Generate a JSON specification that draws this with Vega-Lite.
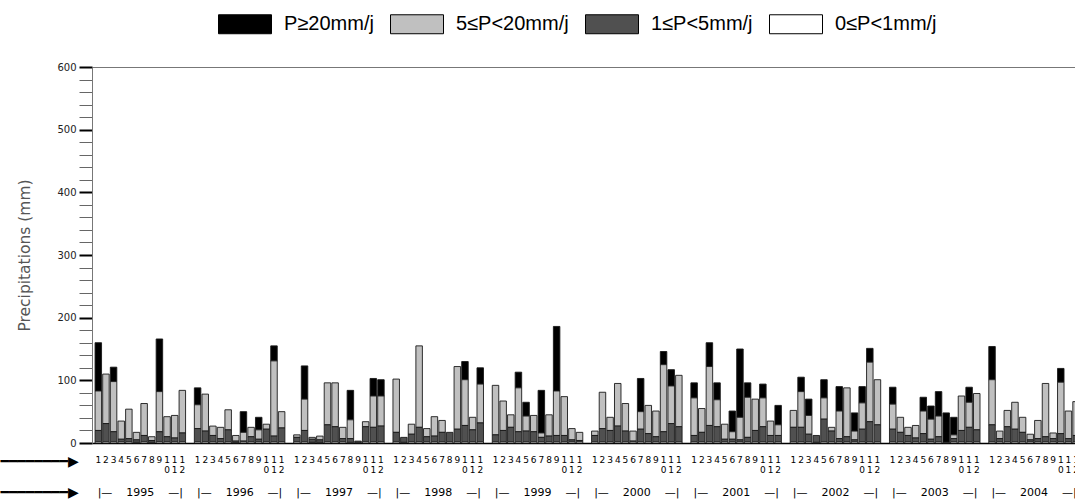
{
  "$schema": "https://vega.github.io/schema/vega-lite/v6.json",
  "autosize": "none",
  "padding": {"left": 92, "top": 67, "right": 0, "bottom": 57},
  "width": 998,
  "height": 376,
  "background": "white",
  "config": {"view": {"stroke": "#777", "strokeWidth": 1}, "font": "DejaVu Sans"},
  "data": {"values": [
    {"t":"1995-01","d":2,"c":18,"b":63,"a":77},{"t":"1995-02","d":2,"c":29,"b":79},{"t":"1995-03","d":2,"c":16,"b":80,"a":23},{"t":"1995-04","d":2,"c":4,"b":29},{"t":"1995-05","d":2,"c":5,"b":47},{"t":"1995-06","d":1,"c":4,"b":12},{"t":"1995-07","d":2,"c":10,"b":51},{"t":"1995-08","d":1,"c":3,"b":6},{"t":"1995-09","d":2,"c":16,"b":64,"a":84},{"t":"1995-10","d":2,"c":8,"b":32},{"t":"1995-11","d":2,"c":6,"b":36},{"t":"1995-12","d":2,"c":14,"b":68},
    {"t":"1996-01","d":2,"c":21,"b":38,"a":27},{"t":"1996-02","d":2,"c":17,"b":59},{"t":"1996-03","d":2,"c":10,"b":15},{"t":"1996-04","d":2,"c":5,"b":18},{"t":"1996-05","d":2,"c":19,"b":32},{"t":"1996-06","d":1,"c":2,"b":9},{"t":"1996-07","d":2,"c":1,"b":14,"a":33},{"t":"1996-08","d":2,"c":8,"b":15},{"t":"1996-09","d":2,"c":4,"b":15,"a":20},{"t":"1996-10","d":2,"c":20,"b":8},{"t":"1996-11","d":2,"c":9,"b":120,"a":24},{"t":"1996-12","d":2,"c":22,"b":26},
    {"t":"1997-01","d":2,"c":7,"b":4},{"t":"1997-02","d":2,"c":18,"b":50,"a":53},{"t":"1997-03","d":1,"c":5,"b":3},{"t":"1997-04","d":1,"c":4,"b":6},{"t":"1997-05","d":2,"c":27,"b":67},{"t":"1997-06","d":2,"c":24,"b":70},{"t":"1997-07","d":2,"c":5,"b":18},{"t":"1997-08","d":1,"c":6,"b":30,"a":47},{"t":"1997-09","d":1,"c":2},{"t":"1997-10","d":2,"c":24,"b":8},{"t":"1997-11","d":2,"c":23,"b":50,"a":28},{"t":"1997-12","d":2,"c":25,"b":48,"a":26},
    {"t":"1998-01","d":2,"c":15,"b":85},{"t":"1998-02","d":1,"c":8},{"t":"1998-03","d":2,"c":12,"b":16},{"t":"1998-04","d":2,"c":23,"b":130},{"t":"1998-05","d":2,"c":8,"b":13},{"t":"1998-06","d":2,"c":9,"b":31},{"t":"1998-07","d":2,"c":15,"b":19},{"t":"1998-08","d":2,"c":15},{"t":"1998-09","d":2,"c":20,"b":100},{"t":"1998-10","d":2,"c":26,"b":73,"a":29},{"t":"1998-11","d":2,"c":19,"b":20},{"t":"1998-12","d":2,"c":30,"b":62,"a":26},
    {"t":"1999-01","d":2,"c":11,"b":79},{"t":"1999-02","d":2,"c":18,"b":47},{"t":"1999-03","d":2,"c":23,"b":20},{"t":"1999-04","d":2,"c":16,"b":70,"a":25},{"t":"1999-05","d":2,"c":17,"b":24,"a":22},{"t":"1999-06","d":2,"c":16,"b":26},{"t":"1999-07","d":2,"c":7,"b":7,"a":68},{"t":"1999-08","d":2,"c":9,"b":34},{"t":"1999-09","d":2,"c":10,"b":71,"a":103},{"t":"1999-10","d":2,"c":10,"b":62},{"t":"1999-11","d":2,"c":3,"b":18},{"t":"1999-12","d":2,"c":2,"b":13},
    {"t":"2000-01","d":2,"c":10,"b":7},{"t":"2000-02","d":2,"c":21,"b":58},{"t":"2000-03","d":2,"c":18,"b":21},{"t":"2000-04","d":2,"c":25,"b":68},{"t":"2000-05","d":2,"c":17,"b":44},{"t":"2000-06","d":2,"c":1,"b":16},{"t":"2000-07","d":2,"c":20,"b":28,"a":53},{"t":"2000-08","d":2,"c":13,"b":45},{"t":"2000-09","d":2,"c":8,"b":41},{"t":"2000-10","d":2,"c":16,"b":107,"a":21},{"t":"2000-11","d":2,"c":29,"b":60,"a":26},{"t":"2000-12","d":2,"c":24,"b":82},
    {"t":"2001-01","d":2,"c":10,"b":60,"a":24},{"t":"2001-02","d":2,"c":15,"b":38},{"t":"2001-03","d":2,"c":26,"b":94,"a":38},{"t":"2001-04","d":2,"c":24,"b":43,"a":27},{"t":"2001-05","d":2,"c":4,"b":24},{"t":"2001-06","d":2,"c":4,"b":12,"a":33},{"t":"2001-07","d":2,"c":3,"b":36,"a":109},{"t":"2001-08","d":2,"c":7,"b":64,"a":23},{"t":"2001-09","d":2,"c":18,"b":50},{"t":"2001-10","d":2,"c":24,"b":46,"a":22},{"t":"2001-11","d":2,"c":10,"b":23},{"t":"2001-12","d":2,"c":10,"b":17,"a":31},
    {"t":"2002-01","d":2,"c":23,"b":27},{"t":"2002-02","d":2,"c":23,"b":57,"a":23},{"t":"2002-03","d":2,"c":12,"b":30,"a":26},{"t":"2002-04","d":1,"c":11},{"t":"2002-05","d":2,"c":36,"b":34,"a":29},{"t":"2002-06","d":2,"c":17,"b":6},{"t":"2002-07","d":2,"c":5,"b":44,"a":39},{"t":"2002-08","d":2,"c":8,"b":78},{"t":"2002-09","d":2,"c":3,"b":14,"a":29},{"t":"2002-10","d":2,"c":20,"b":42,"a":26},{"t":"2002-11","d":2,"c":32,"b":95,"a":22},{"t":"2002-12","d":2,"c":27,"b":72},
    {"t":"2003-01","d":2,"c":20,"b":40,"a":27},{"t":"2003-02","d":2,"c":15,"b":24},{"t":"2003-03","d":2,"c":10,"b":13},{"t":"2003-04","d":2,"c":6,"b":20},{"t":"2003-05","d":2,"c":13,"b":36,"a":22},{"t":"2003-06","d":2,"c":4,"b":32,"a":21},{"t":"2003-07","d":2,"c":8,"b":33,"a":39},{"t":"2003-08","d":1,"a":47},{"t":"2003-09","d":2,"c":5,"b":6,"a":28},{"t":"2003-10","d":2,"c":18,"b":55},{"t":"2003-11","d":2,"c":23,"b":40,"a":24},{"t":"2003-12","d":2,"c":19,"b":58},
    {"t":"2004-01","d":2,"c":27,"b":72,"a":53},{"t":"2004-02","d":2,"c":5,"b":12},{"t":"2004-03","d":2,"c":24,"b":26},{"t":"2004-04","d":2,"c":20,"b":43},{"t":"2004-05","d":2,"c":15,"b":24},{"t":"2004-06","d":2,"c":3,"b":9},{"t":"2004-07","d":2,"c":5,"b":29},{"t":"2004-08","d":2,"c":8,"b":85},{"t":"2004-09","d":2,"c":5,"b":9},{"t":"2004-10","d":2,"c":13,"b":82,"a":22},{"t":"2004-11","d":2,"c":5,"b":44},{"t":"2004-12","d":2,"c":10,"b":54}
  ]},
  "transform": [
    {"fold": ["a", "b", "c", "d"], "as": ["cat", "v"]},
    {"filter": "datum.v > 0"}
  ],
  "layer": [
    {
      "mark": {"type": "bar", "stroke": "#1a1a1a", "strokeWidth": 0.9},
      "encoding": {
        "x": {
          "field": "t", "type": "nominal",
          "scale": {
            "domain": ["1995-01","1995-02","1995-03","1995-04","1995-05","1995-06","1995-07","1995-08","1995-09","1995-10","1995-11","1995-12","1995-g",
                       "1996-01","1996-02","1996-03","1996-04","1996-05","1996-06","1996-07","1996-08","1996-09","1996-10","1996-11","1996-12","1996-g",
                       "1997-01","1997-02","1997-03","1997-04","1997-05","1997-06","1997-07","1997-08","1997-09","1997-10","1997-11","1997-12","1997-g",
                       "1998-01","1998-02","1998-03","1998-04","1998-05","1998-06","1998-07","1998-08","1998-09","1998-10","1998-11","1998-12","1998-g",
                       "1999-01","1999-02","1999-03","1999-04","1999-05","1999-06","1999-07","1999-08","1999-09","1999-10","1999-11","1999-12","1999-g",
                       "2000-01","2000-02","2000-03","2000-04","2000-05","2000-06","2000-07","2000-08","2000-09","2000-10","2000-11","2000-12","2000-g",
                       "2001-01","2001-02","2001-03","2001-04","2001-05","2001-06","2001-07","2001-08","2001-09","2001-10","2001-11","2001-12","2001-g",
                       "2002-01","2002-02","2002-03","2002-04","2002-05","2002-06","2002-07","2002-08","2002-09","2002-10","2002-11","2002-12","2002-g",
                       "2003-01","2003-02","2003-03","2003-04","2003-05","2003-06","2003-07","2003-08","2003-09","2003-10","2003-11","2003-12","2003-g",
                       "2004-01","2004-02","2004-03","2004-04","2004-05","2004-06","2004-07","2004-08","2004-09","2004-10","2004-11","2004-12","2004-g"],
            "paddingInner": 0.15,
            "paddingOuter": 0.4
          },
          "axis": {
            "orient": "bottom",
            "labelExpr": "indexof(datum.value,'g')>=0 ? '' : (substring(datum.value,5,6)=='1' ? ['1', substring(datum.value,6,7)] : substring(datum.value,6,7))",
            "labelAngle": 0,
            "labelOverlap": false,
            "labelFontSize": 9,
            "labelColor": "#000",
            "labelBaseline": "top",
            "labelPadding": 12,
            "labelLineHeight": 10,
            "ticks": false,
            "domainColor": "#000",
            "domainWidth": 1.5,
            "title": "━━━━━━━━▶",
            "titleX": -92,
            "titleY": 18,
            "titleAlign": "left",
            "titleBaseline": "middle",
            "titleFontSize": 14,
            "titleFontWeight": "normal",
            "titleColor": "#000"
          }
        },
        "y": {
          "field": "v", "type": "quantitative", "stack": "zero",
          "scale": {"domain": [0, 600], "nice": false},
          "axis": {
            "title": "Precipitations (mm)",
            "values": [0,20,40,60,80,100,120,140,160,180,200,220,240,260,280,300,320,340,360,380,400,420,440,460,480,500,520,540,560,580,600],
            "labelExpr": "datum.value % 100 === 0 ? datum.label : ''",
            "tickSize": 13,
            "tickWidth": {"condition": {"test": "datum.value % 100 === 0", "value": 2}, "value": 1},
            "tickColor": {"condition": {"test": "datum.value % 100 === 0", "value": "#000"}, "value": "#666"},
            "encode": {"ticks": {"update": {"x2": {"signal": "datum.value % 100 === 0 ? -13 : -7"}}}},
            "labelPadding": 3,
            "labelFontSize": 10,
            "labelColor": "#222",
            "domainColor": "#777",
            "grid": false,
            "titleFontSize": 15.5,
            "titleFontWeight": "normal",
            "titleColor": "#555",
            "titlePadding": 24
          }
        },
        "color": {
          "field": "cat", "type": "nominal",
          "scale": {"domain": ["a", "b", "c", "d"], "range": ["#000000", "#c0c0c0", "#505050", "#ffffff"]},
          "legend": {
            "title": null,
            "orient": "none",
            "direction": "horizontal",
            "legendX": 126,
            "legendY": -70,
            "labelExpr": "datum.label == 'a' ? 'P≥20mm/j' : datum.label == 'b' ? '5≤P<20mm/j' : datum.label == 'c' ? '1≤P<5mm/j' : '0≤P<1mm/j'",
            "symbolType": "M-1,-0.358H1V0.358H-1Z",
            "symbolSize": 2809,
            "symbolStrokeColor": "#000",
            "symbolStrokeWidth": 1,
            "labelFont": "Liberation Sans",
            "labelFontSize": 20,
            "labelColor": "#000",
            "labelOffset": 12,
            "columnPadding": 14,
            "padding": 0
          }
        },
        "order": {"field": "cat", "sort": "descending"}
      }
    },
    {
      "mark": {"type": "tick", "opacity": 0},
      "encoding": {
        "x": {
          "field": "t", "type": "nominal",
          "axis": {
            "orient": "bottom",
            "labelExpr": "substring(datum.value,5,7)=='07' ? '|—\u00a0\u00a0\u00a0\u00a0' + substring(datum.value,0,4) + '\u00a0\u00a0\u00a0\u00a0—|' : ''",
            "labelAngle": 0,
            "labelOverlap": false,
            "labelOffset": -3.8,
            "labelFontSize": 11,
            "labelColor": "#000",
            "labelBaseline": "middle",
            "labelPadding": 49,
            "ticks": false,
            "domain": false,
            "title": "━━━━━━━━▶",
            "titleX": -92,
            "titleY": 49,
            "titleAlign": "left",
            "titleBaseline": "middle",
            "titleFontSize": 14,
            "titleFontWeight": "normal",
            "titleColor": "#000"
          }
        }
      }
    }
  ],
  "resolve": {"axis": {"x": "independent"}}
}
